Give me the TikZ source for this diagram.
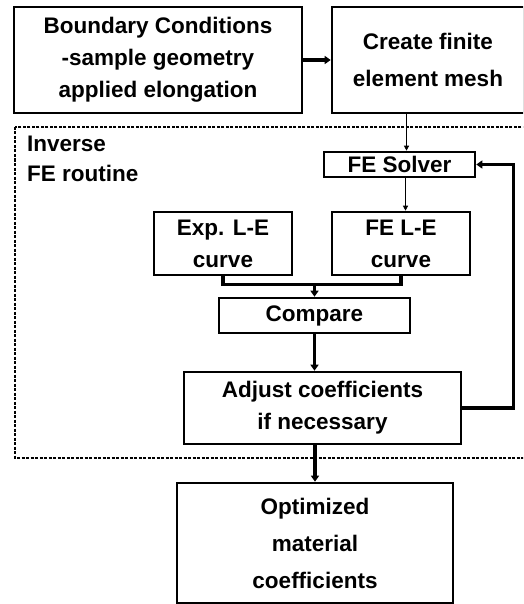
\documentclass[tikz,border=0pt]{standalone}
\usepackage{fontspec}
\setmainfont{Liberation Sans}
\usetikzlibrary{arrows.meta,calc}
\begin{document}
\begin{tikzpicture}[x=1pt,y=-1pt,
  box/.style={draw,line width=2.6pt,inner sep=0pt,align=center,
    font=\bfseries\fontsize{22.5}{32}\selectfont},
  bigarrow/.style={line width=3.2pt,-{Triangle[length=6pt,width=8pt]}},
  thinarrow/.style={line width=1.2pt,-{Triangle[length=5pt,width=5pt]}},
  plainline/.style={line width=3.2pt},
  dashedframe/.style={line width=2.8pt,dash pattern=on 3pt off 1.5pt},
  label/.style={inner sep=0pt,align=left,anchor=north west,
    font=\bfseries\fontsize{22.5}{30}\selectfont}]
\useasboundingbox (0,0) rectangle (523,604);
\clip (0,0) rectangle (523,604);
% nodes
\node[box,minimum width=288pt,minimum height=106pt] (bc) at (158,60)
  {Boundary Conditions\\-sample geometry\\applied elongation};
\node[box,minimum width=192pt,minimum height=106pt,
  font=\bfseries\fontsize{22.5}{37}\selectfont] (cr) at (428,60)
  {Create finite\\element mesh};
\draw[dashedframe] (15,127) rectangle (540,458);
\node[label] (inv) at (27,136) {Inverse\\FE routine};
\node[box,minimum width=151pt,minimum height=25pt] (fes) at (399.5,164.5) {FE Solver};
\node[box,minimum width=138pt,minimum height=63pt] (exp) at (223,243.5) {Exp. L-E\\curve};
\node[box,minimum width=138pt,minimum height=63pt] (fel) at (401,243.5) {FE L-E\\curve};
\node[box,minimum width=191pt,minimum height=35pt] (cmp) at (314.5,315.5) {Compare};
\node[box,minimum width=277pt,minimum height=72pt] (adj) at (322.5,408) {Adjust coefficients\\if necessary};
\node[box,minimum width=276pt,minimum height=120pt,
  font=\bfseries\fontsize{22.5}{37}\selectfont] (opt) at (315,543)
  {Optimized\\material\\coefficients};
% connectors
\draw[bigarrow] (bc.east) -- (cr.west |- bc.east);
\draw[thinarrow] ([xshift=7pt]fes.north |- cr.south) -- ([xshift=7pt]fes.north);
\draw[thinarrow] ([xshift=6pt]fes.south) -- ([xshift=6pt]fes.south |- fel.north);
\coordinate (j) at ($(cmp.north)+(0,-12)$);
\draw[plainline] (exp.south) |- (j) -| (fel.south);
\draw[bigarrow] (j) -- (cmp.north);
\draw[bigarrow] (cmp.south) -- (cmp.south |- adj.north);
\draw[bigarrow] (opt.north |- adj.south) -- (opt.north);
\coordinate (fb) at ($(adj.east)+(51,0)$);
\draw[bigarrow] (adj.east) -- (fb) |- (fes.east);
\end{tikzpicture}
\end{document}
